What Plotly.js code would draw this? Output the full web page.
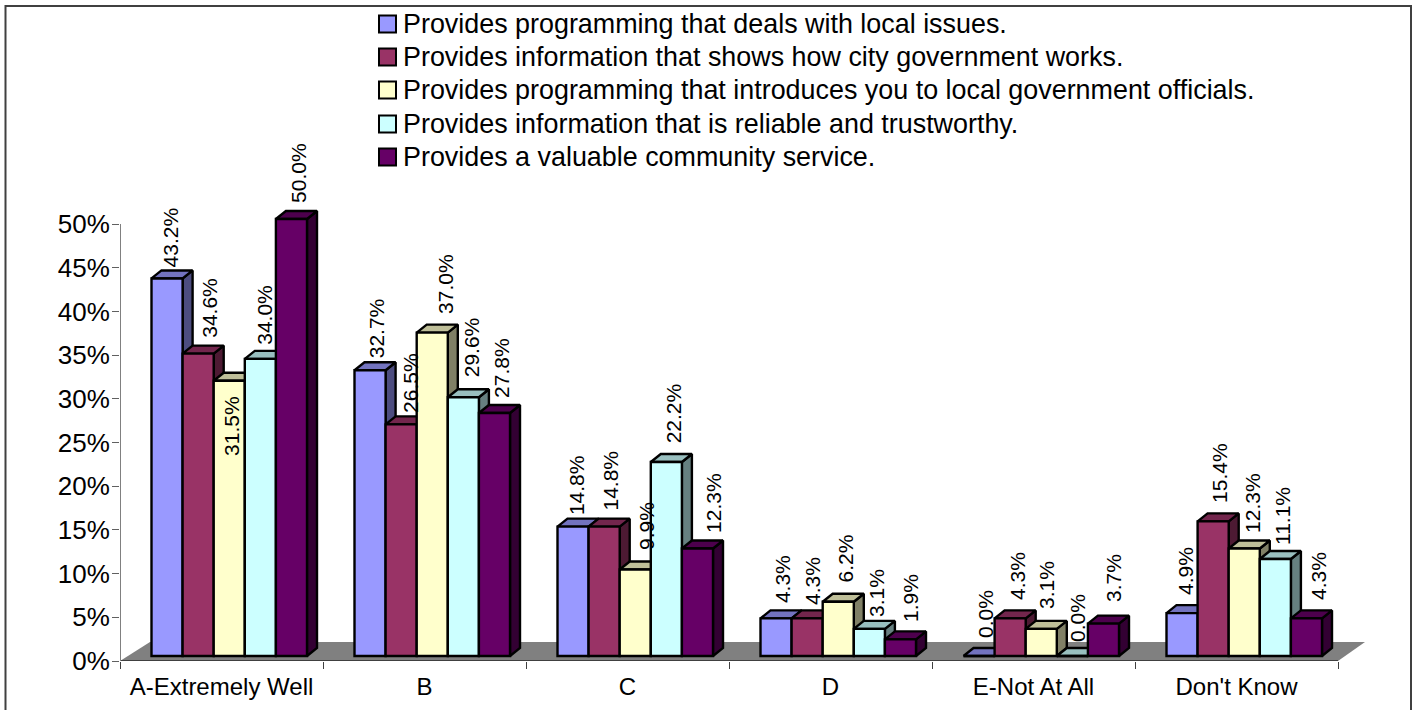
<!DOCTYPE html>
<html><head><meta charset="utf-8">
<script src="https://cdn.plot.ly/plotly-3.0.1.min.js"></script>
<style>html,body{margin:0;padding:0;background:#fff}</style></head>
<body><div id="chart" style="width:1417px;height:710px"></div>
<script>
const categories = ["A-Extremely Well","B","C","D","E-Not At All","Don't Know"];
const seriesNames = [
 "Provides programming that deals with local issues.",
 "Provides information that shows how city government works.",
 "Provides programming that introduces you to local government officials.",
 "Provides information that is reliable and trustworthy.",
 "Provides a valuable community service."];
const localIssues  = [43.2,32.7,14.8,4.3,0.0,4.9];
const cityGov      = [34.6,26.5,14.8,4.3,4.3,15.4];
const officials    = [31.5,37.0,9.9,6.2,3.1,12.3];
const reliable     = [34.0,29.6,22.2,3.1,0.0,11.1];
const community    = [50.0,27.8,12.3,1.9,3.7,4.3];
const seriesValues = [localIssues,cityGov,officials,reliable,community];
const yTicks = [0,5,10,15,20,25,30,35,40,45,50];
const frontColors = ["#9999FF","#993366","#FFFFCC","#CCFFFF","#660066"];
const topColors   = ["#7373BF","#73264D","#BFBF99","#99BFBF","#4D004D"];
const sideColors  = ["#4D4D80","#4D1A33","#808066","#668080","#330033"];
// per-label nudges in pixels, one row per series, one column per category
const labelDx = [[3,6,3,6,6,4],[10.6,9.8,6.3,4.8,6.8,5.8],[2,12.7,11.7,7.2,4.7,7.7],[4.6,7.6,8,6.6,4.6,7.6],[6.5,6.5,15.5,10.5,10.5,11.5]];
const labelGap = [[11,12,11.6,15.4,18,18.2],[15.6,11.4,16.6,13.4,18.4,18.4],[-75,18.6,19.5,19.8,19.9,15.5],[14,20,19,11.9,14,14],[16,15,15.5,17.4,21.7,18.4]];

const W=1417,H=710,L=120,R=1338,Y0=661,Y50=224,RIGHT=1380,TOP=100;
const groupPx=(R-L)/6, pctPx=(Y0-Y50)/50;
const xMax=(RIGHT-L)/groupPx, yMax=(Y0-TOP)/pctPx;
const depthX=10/groupPx, depthY=8/pctPx;
const barW=31.1/groupPx, barsStart=31.5/groupPx;
const lift=5/pctPx;
const font='Liberation Sans';
const edge=2.4;

const traces=[];
traces.push({type:'scatter',xaxis:'x',yaxis:'y',mode:'lines',fill:'toself',fillcolor:'#808080',
  line:{width:0},hoverinfo:'skip',showlegend:false,
  x:[0,30/groupPx,6+27/groupPx,6,0],y:[0,19/pctPx,19/pctPx,0,0]});
seriesValues.forEach((vals,s)=>{
  const sx=[],sy=[],tx=[],ty=[];
  vals.forEach((v,g)=>{
    const x0=g+barsStart+s*barW,x1=x0+barW;
    sx.push(x1,x1+depthX,x1+depthX,x1,x1,null);
    sy.push(0,depthY,v+depthY,v,0,null);
    tx.push(x0,x0+depthX,x1+depthX,x1,x0,null);
    ty.push(v,v+depthY,v+depthY,v,v,null);
  });
  const common={type:'scatter',xaxis:'x2',yaxis:'y2',mode:'lines',fill:'toself',
    line:{color:'#000',width:edge},hoverinfo:'skip',showlegend:false};
  traces.push(Object.assign({x:sx,y:sy,fillcolor:sideColors[s]},common));
  traces.push(Object.assign({x:tx,y:ty,fillcolor:topColors[s]},common));
});
seriesValues.forEach((vals,s)=>{
  traces.push({type:'bar',xaxis:'x3',yaxis:'y3',name:seriesNames[s],showlegend:false,
    x:vals.map((v,g)=>g+barsStart+(s+0.5)*barW),y:vals,width:barW,
    marker:{color:frontColors[s],line:{color:'#000',width:edge}},
    hovertemplate:'%{y:.1f}%<extra></extra>'});
});
const annotations=[];
seriesValues.forEach((vals,s)=>vals.forEach((v,g)=>{
  annotations.push({xref:'x2',yref:'y2',x:g+barsStart+(s+0.5)*barW,y:v,
    xshift:labelDx[s][g],yshift:labelGap[s][g],
    text:v.toFixed(1)+'%',textangle:-90,showarrow:false,xanchor:'center',yanchor:'bottom',
    font:{family:font,size:21,color:'#000'},borderpad:0,borderwidth:0});
}));
// legend
const legendRows=[24,57,90,124,157];
const shapes=[
 {type:'rect',xref:'paper',yref:'paper',x0:5.5/W,x1:1411/W,y0:-0.01,y1:1-6/H,line:{color:'#404040',width:2},fillcolor:'rgba(0,0,0,0)',layer:'below'},
 {type:'line',xref:'x',yref:'y',x0:0,x1:6,y0:0,y1:0,line:{color:'#404040',width:2},layer:'above'},
 {type:'line',xref:'x',yref:'y',x0:0,x1:0,y0:0,y1:50,line:{color:'#808080',width:2},layer:'above'}
];
seriesNames.forEach((n,s)=>{
  const yc=legendRows[s];
  shapes.push({type:'rect',xref:'paper',yref:'paper',x0:379/W,x1:396/W,y0:1-(yc+8.5)/H,y1:1-(yc-8.5)/H,
    fillcolor:frontColors[s],line:{color:'#000',width:2},layer:'above'});
  annotations.push({xref:'paper',yref:'paper',x:402/W,y:1-yc/H,xanchor:'left',yanchor:'middle',showarrow:false,
    text:n,font:{family:font,size:26.9,color:'#000'},borderpad:0});
});
const layout={width:W,height:H,margin:{l:0,r:0,t:0,b:0},paper_bgcolor:'#fff',plot_bgcolor:'rgba(0,0,0,0)',
 barmode:'overlay',font:{family:font,color:'#000'},hovermode:'closest',showlegend:false,
 xaxis:{domain:[L/W,RIGHT/W],range:[0,xMax],showgrid:false,zeroline:false,showline:false,
   tickmode:'array',tickvals:categories.map((c,i)=>i+0.5),ticktext:categories,ticks:'',tickfont:{family:font,size:24},ticklabelstandoff:9,
   minor:{tickmode:'array',tickvals:[0,1,2,3,4,5,6],ticks:'outside',ticklen:7,tickcolor:'#404040',tickwidth:1,showgrid:false},
   anchor:'y',fixedrange:true},
 yaxis:{domain:[(H-Y0)/H,(H-TOP)/H],range:[0,yMax],tickmode:'array',tickvals:yTicks,ticktext:yTicks.map(t=>t+'%'),
   showgrid:false,zeroline:false,showline:false,ticks:'outside',ticklen:7,tickcolor:'#606060',tickwidth:1,ticklabelstandoff:-3,
   tickfont:{family:font,size:26},anchor:'x',fixedrange:true},
 xaxis2:{overlaying:'x',range:[0,xMax],visible:false,anchor:'y2',fixedrange:true},
 yaxis2:{overlaying:'y',range:[-lift,yMax-lift],visible:false,anchor:'x2',fixedrange:true},
 xaxis3:{overlaying:'x',range:[0,xMax],visible:false,anchor:'y3',fixedrange:true},
 yaxis3:{overlaying:'y',range:[-lift,yMax-lift],visible:false,anchor:'x3',fixedrange:true},
 annotations,shapes
};
Plotly.newPlot('chart',traces,layout,{displayModeBar:false});
</script></body></html>
